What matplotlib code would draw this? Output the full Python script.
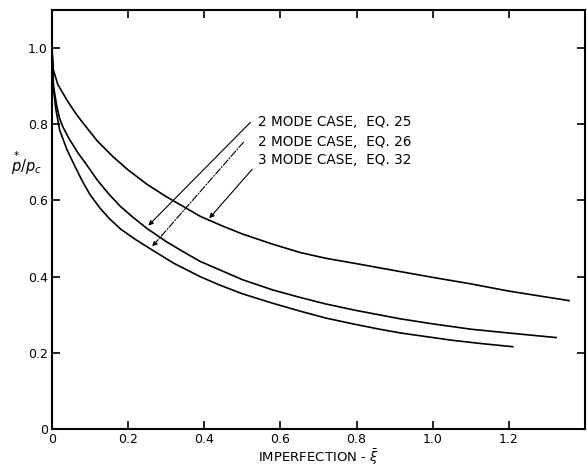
import matplotlib
matplotlib.use("Agg")
import matplotlib.pyplot as plt

# Data
x_eq32 = [0.0, 0.003, 0.015, 0.04, 0.06, 0.08, 0.12, 0.16, 0.2, 0.25, 0.3, 0.39, 0.45, 0.5,
          0.58, 0.653, 0.72, 0.8, 0.916, 1.0, 1.1, 1.2, 1.358]
y_eq32 = [1.0, 0.945, 0.905, 0.862, 0.832, 0.805, 0.755, 0.715, 0.68, 0.642, 0.61, 0.558, 0.532, 0.512,
          0.485, 0.463, 0.448, 0.434, 0.413, 0.398, 0.381, 0.362, 0.337]

x_eq25 = [0.0, 0.004, 0.012, 0.02, 0.03, 0.045, 0.068, 0.09, 0.12, 0.15, 0.179, 0.21, 0.25, 0.3,
          0.34, 0.389, 0.44, 0.5, 0.58, 0.653, 0.72, 0.8, 0.916, 1.0, 1.1, 1.2, 1.324]
y_eq25 = [1.0, 0.90, 0.85, 0.815, 0.79, 0.762, 0.725, 0.695, 0.652, 0.616, 0.585, 0.558, 0.526, 0.492,
          0.468, 0.44, 0.418, 0.392, 0.365, 0.345, 0.328, 0.311, 0.289, 0.276, 0.262, 0.252, 0.240]

x_eq26 = [0.0, 0.003, 0.01, 0.02, 0.039, 0.06, 0.08, 0.1, 0.126, 0.15, 0.18, 0.22, 0.263, 0.32,
          0.389, 0.44, 0.5, 0.58, 0.653, 0.72, 0.8, 0.86, 0.916, 1.05, 1.13, 1.21]
y_eq26 = [1.0, 0.90, 0.84, 0.785, 0.734, 0.69, 0.65, 0.615, 0.58, 0.553, 0.525, 0.497, 0.47, 0.435,
          0.40, 0.378, 0.355, 0.33, 0.309, 0.291, 0.274, 0.262, 0.252, 0.233, 0.224, 0.216]

x_ticks = [0, 0.2, 0.4, 0.6, 0.8, 1.0, 1.2]
x_ticklabels = ["0", "0.2", "0.4", "0.6", "0.8", "1.0", "1.2"]
y_ticks = [0, 0.2, 0.4, 0.6, 0.8, 1.0]
y_ticklabels = ["0", "0.2", "0.4", "0.6", "0.8", "1.0"]

labels = ["2 MODE CASE,  EQ. 25", "2 MODE CASE,  EQ. 26", "3 MODE CASE,  EQ. 32"]
label_pos = [(0.542, 0.805), (0.542, 0.753), (0.542, 0.705)]
arrow_start = [(0.521, 0.805), (0.503, 0.753), (0.526, 0.682)]
arrow_tip = [(0.253, 0.534), (0.263, 0.479), (0.413, 0.553)]
arrow_styles = ["-", "-.", "-"]

plt.rcParams['font.family'] = ['DejaVu Sans']
plt.rcParams['mathtext.fontset'] = 'dejavusans'

fig = plt.figure(figsize=(5.87, 4.67), dpi=100)
ax = fig.add_axes([0.0886, 0.0814, 0.9080, 0.8972])

for xs, ys in [(x_eq32, y_eq32), (x_eq25, y_eq25), (x_eq26, y_eq26)]:
    ax.plot(xs, ys, color='black', lw=1.2, solid_joinstyle='round')

ax.set_xlim(0, 1.4)
ax.set_ylim(0, 1.1)
ax.set_xticks(x_ticks)
ax.set_xticklabels(x_ticklabels)
ax.set_yticks(y_ticks)
ax.set_yticklabels(y_ticklabels)
ax.tick_params(direction='in', length=6, width=1.2, top=True, right=True,
               labelsize=9, pad=3, colors='black')
for s in ax.spines.values():
    s.set_linewidth(1.5)

ax.set_xlabel(r'IMPERFECTION - $\bar{\xi}$', fontsize=9.5, labelpad=1)
fig.text(0.046, 0.65, r'$\overset{*}{p}/p_c$', fontsize=10.5, ha='center', va='center')

for lab, lp in zip(labels, label_pos):
    ax.text(lp[0], lp[1], lab, fontsize=9.8, ha='left', va='center')

for st, tp, ls in zip(arrow_start, arrow_tip, arrow_styles):
    ax.annotate('', xy=tp, xytext=st,
                arrowprops=dict(arrowstyle='-|>', lw=0.8, ls=ls, color='black',
                                mutation_scale=7, shrinkA=0, shrinkB=0))

fig.savefig('out.png', dpi=100)
